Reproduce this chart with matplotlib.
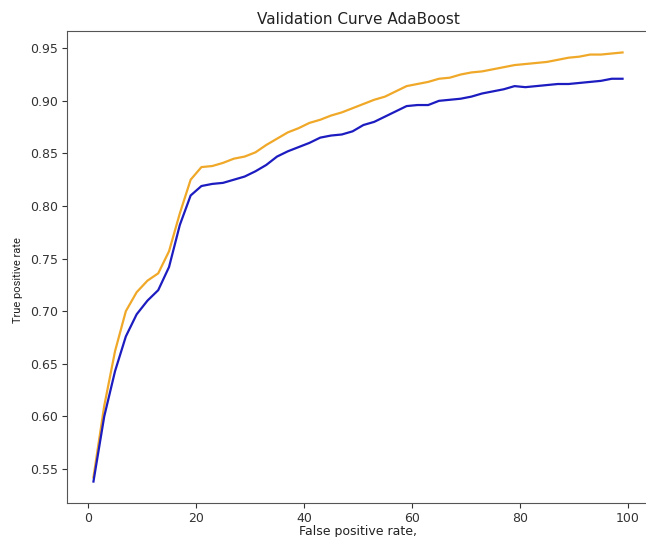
import numpy as np
import matplotlib
matplotlib.use("Agg")
import matplotlib.pyplot as plt

# number of estimators evaluated
n_estimators = list(range(1, 100, 2))

# mean training score per setting
train_scores = [0.542, 0.610, 0.662, 0.700, 0.718, 0.729, 0.736, 0.757, 0.793, 0.825,
                0.837, 0.838, 0.841, 0.845, 0.847, 0.851, 0.858, 0.864, 0.870, 0.874,
                0.879, 0.882, 0.886, 0.889, 0.893, 0.897, 0.901, 0.904, 0.909, 0.914,
                0.916, 0.918, 0.921, 0.922, 0.925, 0.927, 0.928, 0.930, 0.932, 0.934,
                0.935, 0.936, 0.937, 0.939, 0.941, 0.942, 0.944, 0.944, 0.945, 0.946]

# mean cross-validation score per setting
test_scores = [0.538, 0.600, 0.643, 0.676, 0.697, 0.710, 0.720, 0.742, 0.782, 0.810,
               0.819, 0.821, 0.822, 0.825, 0.828, 0.833, 0.839, 0.847, 0.852, 0.856,
               0.860, 0.865, 0.867, 0.868, 0.871, 0.877, 0.880, 0.885, 0.890, 0.895,
               0.896, 0.896, 0.900, 0.901, 0.902, 0.904, 0.907, 0.909, 0.911, 0.914,
               0.913, 0.914, 0.915, 0.916, 0.916, 0.917, 0.918, 0.919, 0.921, 0.921]

fig = plt.figure(figsize=(6.46, 5.37), dpi=100)
ax = fig.add_axes([67 / 646, 34 / 537, 582 / 646, 472 / 537])

ax.plot(n_estimators, train_scores, color="#f0a828", linewidth=1.6)
ax.plot(n_estimators, test_scores, color="#1c1cc0", linewidth=1.6)

ax.set_title("Validation Curve AdaBoost", fontsize=11, color="#222222", pad=5)
ax.set_xlabel("False positive rate,", fontsize=9, color="#222222", labelpad=0)
ax.set_ylabel("True positive rate", fontsize=8, color="#222222",
              family=["Roboto", "DejaVu Sans"])
ax.yaxis.set_label_coords(-0.076, 0.472)

ax.tick_params(labelsize=9, colors="#333333", length=3.5, pad=3)
for s in ax.spines.values():
    s.set_color("#555555")

fig.savefig("out.png", dpi=100)
